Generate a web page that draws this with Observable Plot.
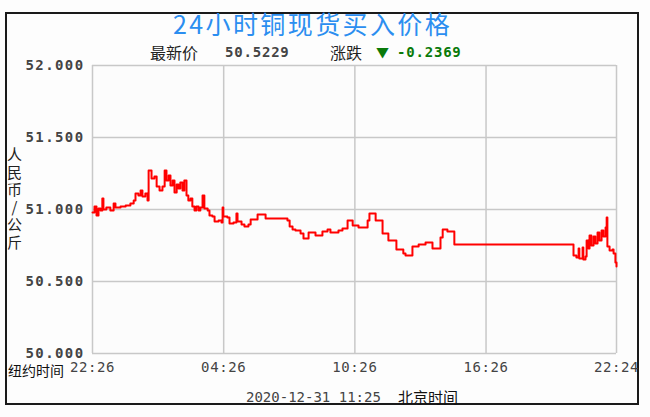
<!DOCTYPE html>
<html><head><meta charset="utf-8">
<script src="https://cdn.jsdelivr.net/npm/d3@7"></script>
<script src="https://cdn.jsdelivr.net/npm/@observablehq/plot@0.6"></script>
<style>
html,body{margin:0;padding:0;background:#fdfdfd;}
#wrap{position:relative;width:650px;height:417px;overflow:hidden;font-family:"Noto Sans CJK SC","Noto Sans",sans-serif;}
#box{position:absolute;left:5px;top:12px;width:630px;height:389px;border:2px solid #1a1a1a;}
#chart{position:absolute;left:0;top:0;}
.abs{position:absolute;white-space:nowrap;line-height:1;}
.mono{font-family:"DejaVu Sans Mono",monospace;}
.chart text{letter-spacing:0.6px;}
.chart g[aria-label="y-axis tick label"] text{letter-spacing:1.4px;}
</style></head>
<body><div id="wrap">
<div id="box"></div>
<div id="chart"></div>
<div class="abs" id="title" style="left:173px;top:11px;font-size:25px;color:#2b8ef0;letter-spacing:2.4px;">24小时铜现货买入价格</div>
<div class="abs" style="left:150px;top:44px;font-size:16px;color:#222;">最新价</div>
<div class="abs mono" style="left:225px;top:45px;font-size:14px;font-weight:bold;color:#444;letter-spacing:0.8px;" id="last"></div>
<div class="abs" style="left:330px;top:44px;font-size:16px;color:#222;">涨跌</div>
<div class="abs" style="left:376px;top:45px;font-size:13px;color:#0a7a0a;">▼</div>
<div class="abs mono" style="left:397px;top:45px;font-size:14px;font-weight:bold;color:#0a7a0a;letter-spacing:0.8px;" id="chg"></div>
<div class="abs" style="left:7px;top:147px;font-size:15px;color:#222;writing-mode:vertical-rl;text-orientation:upright;line-height:1;letter-spacing:2.5px;">人民币/公斤</div>
<div class="abs" style="left:8px;top:363px;font-size:14px;color:#111;">纽约时间</div>
<div class="abs mono" style="left:246px;top:390px;font-size:14px;color:#444;">2020-12-31 11:25</div>
<div class="abs" style="left:398px;top:389px;font-size:15px;color:#111;">北京时间</div>
</div>
<script>
// minutes since 22:26 (New York time) and price (CNY/kg)
const minutes = [0,5.5,11,16.5,22,27,30,38,49,58,63,77,91,104,113,118,126,132,137,145,151,154,162,170,176,184,192,198,203,209,214,220,225,231,236,241,247,252,258,263,269,274,280,285,291,296,302,307,316,321,329,335,346,354,357,359,370,376,387,395,398,409,417,428,434,453,475,508,535,541,549,557,571,579,593,612,631,645,653,675,686,700,714,730,755,760,777,796,812,834,853,859,878,895,914,933,955,961,974,993,1317,1320,1328,1334,1336,1345,1347,1353,1356,1361,1364,1369,1375,1380,1386,1391,1397,1402,1408,1411,1413,1419,1427,1430,1435,1438];
const prices = [50.979,51.021,50.958,51.007,50.993,51.076,51.000,51.014,50.993,51.042,51.014,51.021,51.028,51.042,51.063,51.111,51.097,51.132,51.090,51.111,51.063,51.271,51.215,51.229,51.160,51.132,51.160,51.271,51.201,51.236,51.167,51.201,51.118,51.174,51.146,51.188,51.132,51.201,51.097,51.063,51.076,51.021,50.993,51.021,50.993,51.014,51.097,51.007,50.993,50.958,50.951,50.917,50.924,50.910,51.014,50.951,50.944,50.903,50.910,50.972,50.917,50.896,50.882,50.896,50.931,50.965,50.938,50.938,50.924,50.882,50.861,50.854,50.833,50.799,50.840,50.819,50.847,50.861,50.840,50.854,50.868,50.924,50.889,50.875,50.924,50.972,50.924,50.833,50.785,50.722,50.694,50.681,50.743,50.757,50.771,50.729,50.806,50.861,50.847,50.757,50.757,50.681,50.667,50.729,50.660,50.736,50.653,50.674,50.785,50.729,50.819,50.750,50.813,50.764,50.840,50.785,50.854,50.813,50.875,50.944,50.743,50.715,50.722,50.694,50.632,50.604];
const yTicks = [50, 50.5, 51, 51.5, 52];
const xTicks = [0, 360, 720, 1080, 1438];
const xLabels = ["22:26", "04:26", "10:26", "16:26", "22:24"];
const lastPrice = "50.5229";
const change = "-0.2369";

document.getElementById("last").textContent = lastPrice;
document.getElementById("chg").textContent = change;

const data = minutes.map((t, i) => ({t, v: prices[i]}));
const labelOf = new Map(xTicks.map((t, i) => [t, xLabels[i]]));

const chart = Plot.plot({
  width: 650, height: 417,
  marginLeft: 92, marginRight: 34, marginTop: 65, marginBottom: 64,
  className: "chart",
  style: {background: "transparent", overflow: "visible"},
  x: {domain: [0, 1438], axis: null},
  y: {domain: [50, 52], axis: null},
  marks: [
    Plot.frame({fill: "#fcfcfc", stroke: null}),
    Plot.gridX(xTicks, {stroke: "#c8c8c8", strokeOpacity: 1, strokeWidth: 1.5}),
    Plot.gridY(yTicks, {stroke: "#c8c8c8", strokeOpacity: 1, strokeWidth: 1.5}),
    Plot.line(data, {x: "t", y: "v", stroke: "#ff0000", strokeWidth: 2, curve: "step-after"}),
    Plot.axisY(yTicks, {label: null, tickSize: 0, tickPadding: 8, tickFormat: d3.format(".3f"), fontSize: 14, fontWeight: "bold", fontFamily: "DejaVu Sans Mono", fill: "#444"}),
    Plot.axisX(xTicks, {label: null, tickSize: 0, tickPadding: 9, tickFormat: d => labelOf.get(d), fontSize: 14, fontFamily: "DejaVu Sans Mono", fill: "#444"})
  ]
});
document.getElementById("chart").appendChild(chart);
</script>
</body></html>
